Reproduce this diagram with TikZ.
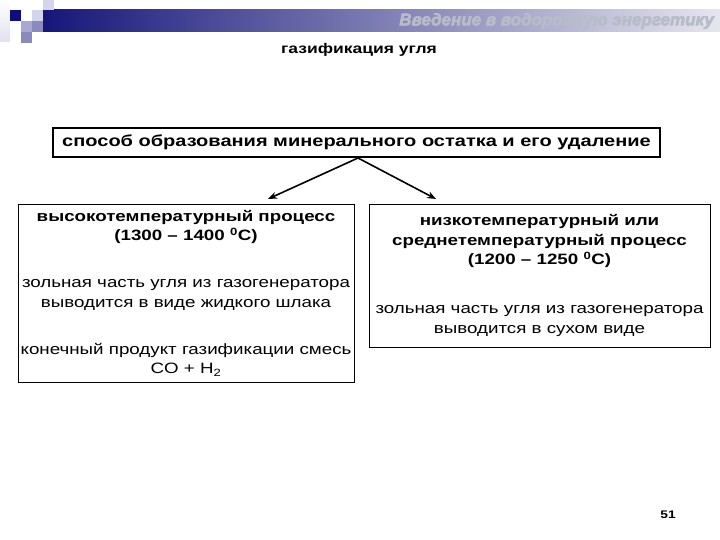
\documentclass[tikz,border=0pt]{standalone}
\usepackage{fontspec}
\setmainfont[FakeStretch=1.25]{Liberation Sans}
\newfontfamily\hdrfont{Liberation Sans}
\usetikzlibrary{arrows.meta}
\definecolor{navy}{HTML}{16167A}
\definecolor{bandend}{HTML}{E6E6EE}
\definecolor{sqdark}{HTML}{0E0E82}
\definecolor{sqlight}{HTML}{D4D4EA}
\definecolor{sqmid}{HTML}{A8A8D2}
\definecolor{sqmid2}{HTML}{8A8ABC}
\definecolor{hdrfill}{HTML}{B8BCC8}
\tikzset{
  mainbox/.style={draw, line width=2pt, minimum width=607pt, minimum height=29pt, inner sep=0pt,
    font=\fontsize{16}{19}\selectfont\bfseries},
  subbox/.style={draw, line width=0.8pt, inner sep=0pt, align=center,
    font=\fontsize{15}{19.5}\selectfont},
  conn/.style={line width=1.6pt, -{Stealth[length=9pt,width=7pt]}},
}
\begin{document}
\begin{tikzpicture}[x=1pt,y=-1pt]
\useasboundingbox (0,0) rectangle (720,540);
% header band and squares
\shade[left color=navy, right color=bandend] (43,10) rectangle (720,32);
\shade[top color=white, bottom color=sqlight!70] (0,0) rectangle (10,42);
\fill[sqlight] (43,0) rectangle (54,10);
\fill[sqdark] (10,10) rectangle (21,21);
\fill[sqlight] (32,10) rectangle (43,21);
\fill[sqmid] (21,21) rectangle (32,32);
\fill[sqmid2] (32,21) rectangle (43,32);
\fill[sqmid2] (21,32) rectangle (32,43);
\node[anchor=east, inner sep=0pt, font=\hdrfont\fontsize{17}{19}\selectfont\bfseries\itshape]
  (hdr) at (714,21) {\special{pdf:literal 0.16 0.16 0.22 RG 0.6 w 2 Tr}\color{hdrfill}Введение в водородную энергетику\special{pdf:literal 0 Tr}};
% title
\node[font=\fontsize{14}{16}\selectfont\bfseries] (title) at (359,50) {газификация угля};
% boxes
\node[mainbox] (main) at (356.5,142.5) {способ образования минерального остатка и его удаление};
\node[subbox, minimum width=336pt, minimum height=178pt] (L) at (186,293)
 {\bfseries высокотемпературный процесс\\
  \bfseries (1300 – 1400 \textsuperscript{0}C)\\[27.5pt]
  зольная часть угля из газогенератора\\
  выводится в виде жидкого шлака\\[27.5pt]
  конечный продукт газификации смесь\\
  CO + H\textsubscript{2}};
\node[subbox, minimum width=341pt, minimum height=143pt] (R) at (539.5,275.5)
 {\bfseries низкотемпературный или\\
  \bfseries среднетемпературный процесс\\
  \bfseries (1200 – 1250 \textsuperscript{0}C)\\[29.5pt]
  зольная часть угля из газогенератора\\
  выводится в сухом виде};
\coordinate (la) at (268,199);
\coordinate (ra) at (436,199);
\draw[conn] ([xshift=1.5pt]main.south) -- (la);
\draw[conn] ([xshift=1.5pt]main.south) -- (ra);
% page number
\node[font=\fontsize{11}{12}\selectfont\bfseries] (num) at (668,515) {51};
\end{tikzpicture}
\end{document}
